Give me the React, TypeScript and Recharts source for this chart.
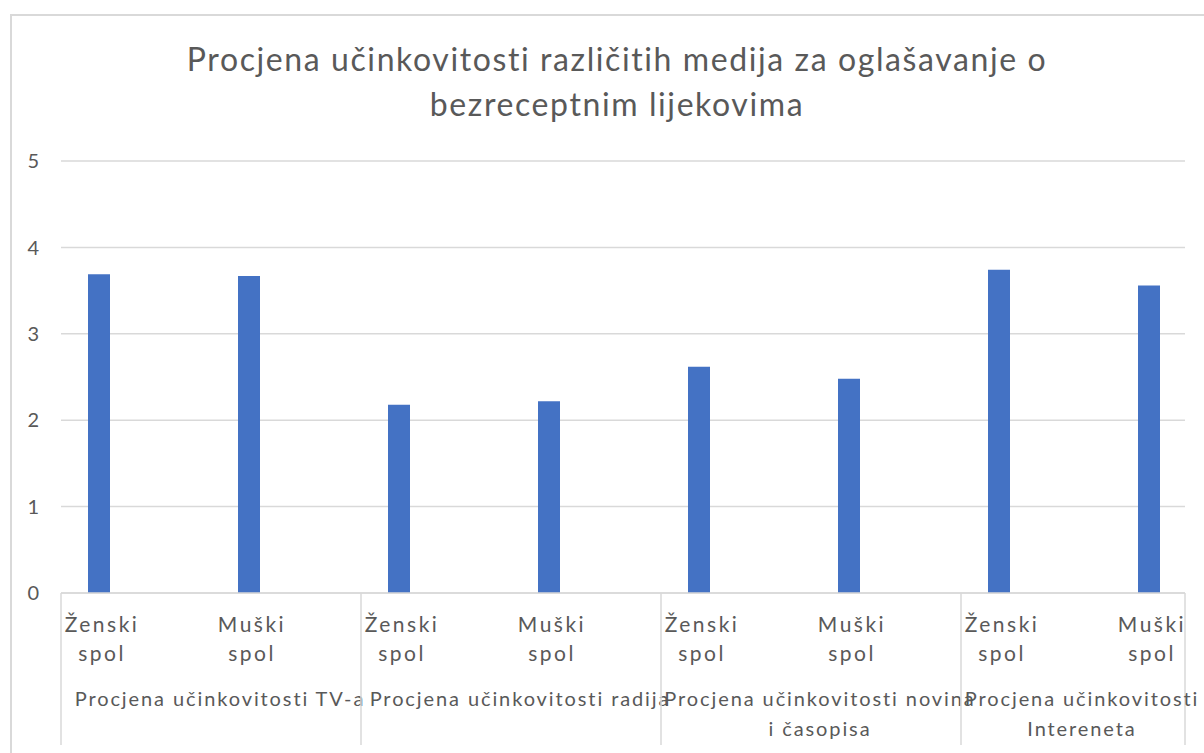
import { BarChart, Bar, XAxis, YAxis, CartesianGrid, usePlotArea } from 'recharts';

const title = 'Procjena učinkovitosti različitih medija za oglašavanje o bezreceptnim lijekovima';
const genders = ['Ženski spol', 'Muški spol', 'Ženski spol', 'Muški spol', 'Ženski spol', 'Muški spol', 'Ženski spol', 'Muški spol'];
const groups = [
  'Procjena učinkovitosti TV-a',
  'Procjena učinkovitosti radija',
  'Procjena učinkovitosti novina i časopisa',
  'Procjena učinkovitosti Intereneta',
];
const groupLines = [
  ['Procjena učinkovitosti TV-a'],
  ['Procjena učinkovitosti radija'],
  ['Procjena učinkovitosti novina', 'i časopisa'],
  ['Procjena učinkovitosti', 'Intereneta'],
];
const groupOfBar = [0, 0, 1, 1, 2, 2, 3, 3];
const values = [3.69, 3.67, 2.18, 2.22, 2.62, 2.48, 3.74, 3.56];
const yTicks = [0, 1, 2, 3, 4, 5];

const data = values.map((v, i) => ({
  id: i,
  gender: genders[i],
  group: groups[groupOfBar[i]],
  value: v,
}));

const FONT = 'Lato, "Open Sans", sans-serif';
const TEXT = '#595959';
const LINE = '#D9D9D9';

function GenderTick(props: any) {
  const { x, y, payload } = props;
  const words = String(genders[payload.value] ?? '').split(' ');
  return (
    <text x={x} y={y + 31} textAnchor="middle" fill={TEXT} fontSize={21} fontFamily={FONT} letterSpacing={2.5}>
      {words.map((w, i) => (
        <tspan key={i} x={x + 3} dy={i === 0 ? 0 : 29}>{w}</tspan>
      ))}
    </text>
  );
}

function GroupTick(props: any) {
  const { x, y, payload, index } = props;
  const area = usePlotArea();
  const half = payload.offset ?? 150;
  const left = x - half;
  const right = area ? Math.min(x + half, area.x + area.width) : x + half;
  const cx = (left + right) / 2 + 9;
  const lines = groupLines[index] ?? [payload.value];
  return (
    <g>
      <line x1={left} x2={left} y1={y - 88} y2={y + 64} stroke={LINE} strokeWidth={1.5} />
      <text x={cx} y={y + 25} textAnchor="middle" fill={TEXT} fontSize={20} fontFamily={FONT} letterSpacing={1.9}>
        {lines.map((l: string, i: number) => (
          <tspan key={i} x={cx} dy={i === 0 ? 0 : 30}>{l}</tspan>
        ))}
      </text>
    </g>
  );
}

function RightEdge() {
  const area = usePlotArea();
  if (!area) return null;
  const xr = area.x + area.width;
  const yb = area.y + area.height;
  return <line x1={xr} x2={xr} y1={yb} y2={yb + 152} stroke={LINE} strokeWidth={1.5} />;
}

export default function App() {
  return (
    <div style={{ position: 'fixed', left: 0, top: 0, width: 1204, height: 753, overflow: 'hidden', background: '#fff' }}>
      <div style={{ position: 'absolute', left: 10, top: 14, width: 1300, height: 800, border: `2px solid ${LINE}` }} />
      <div
        style={{
          position: 'absolute', left: 10, top: 36, width: 1214, textAlign: 'center',
          fontFamily: FONT, fontSize: 32, lineHeight: '45px', color: TEXT, letterSpacing: 1.6,
        }}
      >
        <div style={{ width: 960, margin: '0 auto' }}>{title}</div>
      </div>
      <div style={{ position: 'absolute', left: 0, top: 0 }}>
        <BarChart width={1300} height={753} data={data} margin={{ top: 161, right: 115, left: 0, bottom: 0 }}>
          <CartesianGrid vertical={false} stroke={LINE} strokeWidth={1.5} />
          <XAxis
            dataKey="id"
            height={80}
            padding={{ left: -37, right: -39 }}
            axisLine={{ stroke: LINE, strokeWidth: 1.5 }}
            tickLine={false}
            interval={0}
            tick={<GenderTick />}
          />
          <XAxis
            xAxisId="grp"
            dataKey="group"
            height={80}
            allowDuplicatedCategory={false}
            padding={{ left: 0, right: -76 }}
            axisLine={false}
            tickLine={false}
            interval={0}
            tick={<GroupTick />}
          />
          <YAxis
            width={61}
            domain={[0, 5]}
            ticks={yTicks}
            axisLine={false}
            tickLine={false}
            tickMargin={16}
            tick={{ fill: TEXT, fontSize: 20, fontFamily: FONT }}
          />
          <Bar dataKey="value" fill="#4472C4" barSize={22} isAnimationActive={false} />
          <RightEdge />
        </BarChart>
      </div>
    </div>
  );
}
